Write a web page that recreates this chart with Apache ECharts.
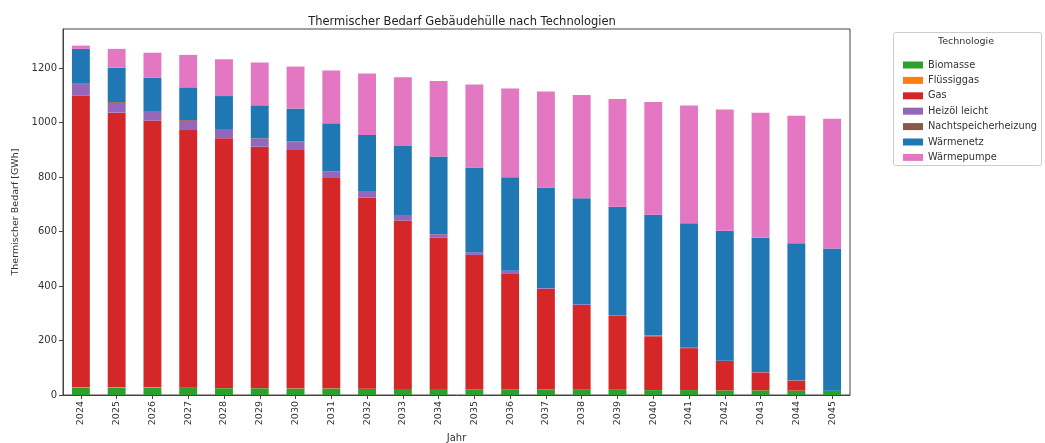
<!DOCTYPE html>
<html>
<head>
<meta charset="utf-8">
<script src="https://cdn.jsdelivr.net/npm/echarts@6/dist/echarts.min.js"></script>
<style>
  html, body { margin: 0; padding: 0; background: #fff; }
  #chart { width: 1045px; height: 443px; }
</style>
</head>
<body>
<div id="chart"></div>
<script>
// Years on the x axis
const years = ['2024','2025','2026','2027','2028','2029','2030','2031','2032','2033','2034',
               '2035','2036','2037','2038','2039','2040','2041','2042','2043','2044','2045'];

// Thermal demand per technology [GWh]
const biomasse = [28,27,27,26,25,25,24,24,23,22,22,21,21,20,19,19,18,18,17,17,16,16];
const fluessiggas = [1,1,1,1,1,1,1,1,0,0,0,0,0,0,0,0,0,0,0,0,0,0];
const gas = [1069,1008,979,945,916,885,874,774,702,618,555,493,426,370,311,271,198,154,108,66,37,0];
const heizoel = [43,36,32,34,31,29,29,21,20,17,13,10,9,3,3,2,2,1,1,1,1,0];
const nachtspeicher = [3,3,3,3,3,2,2,2,1,1,1,0,0,0,0,0,0,0,0,0,0,0];
const waermenetz = [126,126,123,120,121,121,121,175,208,256,284,311,343,368,389,399,443,457,477,493,503,522];
const waermepumpe = [12,69,91,119,135,157,154,194,226,252,277,304,326,353,379,395,414,432,445,459,468,476];

const yTicks = [0,200,400,600,800,1000,1200];

const seriesDefs = [
  ['Biomasse', biomasse, '#2ca02c'],
  ['Flüssiggas', fluessiggas, '#ff7f0e'],
  ['Gas', gas, '#d62728'],
  ['Heizöl leicht', heizoel, '#9467bd'],
  ['Nachtspeicherheizung', nachtspeicher, '#8c564b'],
  ['Wärmenetz', waermenetz, '#1f77b4'],
  ['Wärmepumpe', waermepumpe, '#e377c2']
];

const font = 'DejaVu Sans, sans-serif';
const chart = echarts.init(document.getElementById('chart'), null, { renderer: 'canvas' });

chart.setOption({
  animation: false,
  backgroundColor: '#fff',
  title: {
    text: 'Thermischer Bedarf Gebäudehülle nach Technologien',
    left: 457, top: 11, textAlign: 'center',
    textStyle: { fontFamily: font, fontSize: 11.5, fontWeight: 'normal', color: '#222' }
  },
  grid: {
    left: 63, top: 29, width: 787, height: 366,
    containLabel: false, outerBoundsMode: 'none',
    show: true, borderColor: '#444', borderWidth: 1, backgroundColor: 'transparent'
  },
  legend: {
    orient: 'vertical', left: 898, top: 55,
    itemWidth: 20, itemHeight: 7, itemGap: 5.4, icon: 'rect',
    textStyle: { fontFamily: font, fontSize: 9.8, color: '#333', padding: [0,0,0,0] },
    data: seriesDefs.map(d => d[0])
  },
  graphic: [
    { type: 'rect', left: 893, top: 32, shape: { width: 148, height: 133, r: 2 },
      style: { fill: '#fff', stroke: '#ccc', lineWidth: 1 }, z: -1 },
    { type: 'text', left: 938, top: 37,
      style: { text: 'Technologie', font: '9.5px DejaVu Sans', fill: '#333' } }
  ],
  xAxis: {
    type: 'category', data: years, boundaryGap: true,
    name: 'Jahr', nameLocation: 'middle', nameGap: 38,
    nameTextStyle: { fontFamily: font, fontSize: 10, color: '#333' },
    axisLine: { show: true, lineStyle: { color: '#444' } },
    axisTick: { show: true, alignWithLabel: true, length: 4, lineStyle: { color: '#444' } },
    axisLabel: { rotate: 90, fontFamily: font, fontSize: 9.5, color: '#333', margin: 6 }
  },
  yAxis: {
    type: 'value', min: 0, max: 1343, interval: 200,
    name: 'Thermischer Bedarf [GWh]', nameLocation: 'middle', nameGap: 38,
    nameTextStyle: { fontFamily: font, fontSize: 9.5, color: '#333' },
    axisLine: { show: true, lineStyle: { color: '#444' } },
    axisTick: { show: true, length: 4, lineStyle: { color: '#444' }, customValues: yTicks },
    axisLabel: { fontFamily: font, fontSize: 10, color: '#333', margin: 6,
                 customValues: yTicks, formatter: v => String(v) },
    splitLine: { show: false }
  },
  series: seriesDefs.map(([name, data, color]) => ({
    name, type: 'bar', stack: 'total', data, barWidth: '50%',
    itemStyle: { color }, emphasis: { disabled: true }
  }))
});
</script>
</body>
</html>
